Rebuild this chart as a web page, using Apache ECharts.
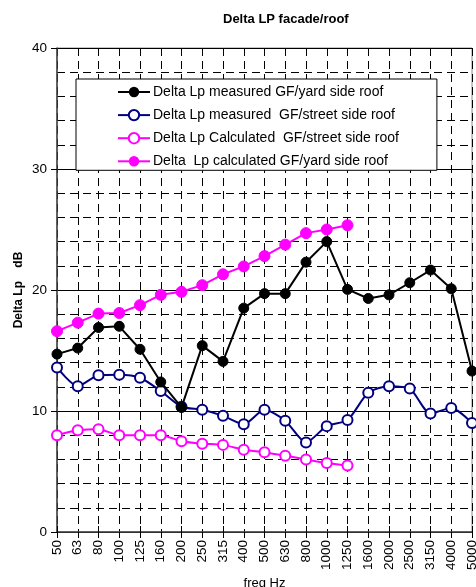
<!DOCTYPE html>
<html>
<head>
<meta charset="utf-8">
<script src="https://cdn.jsdelivr.net/npm/echarts@6/dist/echarts.min.js"></script>
<style>html,body{margin:0;padding:0;background:#fff;}#c{width:476px;height:587px;}</style>
</head>
<body>
<div id="c"></div>
<script>
const categories = ['50','63','80','100','125','160','200','250','315','400','500','630','800','1000','1250','1600','2000','2500','3150','4000','5000'];
const measuredYard = [14.7,15.2,16.9,17.0,15.1,12.4,10.3,15.4,14.1,18.5,19.7,19.7,22.3,24.0,20.05,19.3,19.6,20.6,21.65,20.1,13.3];
const measuredStreet = [13.6,12.05,12.95,13.0,12.75,11.65,10.35,10.1,9.6,8.9,10.1,9.2,7.4,8.75,9.25,11.5,12.05,11.85,9.8,10.25,9.0];
const calcStreet = [8.0,8.4,8.5,8.0,8.0,8.0,7.5,7.3,7.2,6.8,6.6,6.3,6.0,5.7,5.5];
const calcYard = [16.6,17.3,18.05,18.1,18.75,19.6,19.85,20.4,21.3,21.95,22.8,23.75,24.7,25.0,25.35];
const yTicks = [0,10,20,30,40];

const FONT = '"Liberation Sans", Arial, sans-serif';
const chart = echarts.init(document.getElementById('c'), null, {renderer:'canvas'});
chart.setOption({
  animation:false,
  backgroundColor:'#ffffff',
  title:{text:'Delta LP facade/roof', left:218, top:8,
    textStyle:{fontFamily:FONT, fontSize:13, fontWeight:'bold', color:'#000'}},
  legend:{
    orient:'vertical', left:76, top:79,
    backgroundColor:'#ffffff', borderColor:'#000', borderWidth:1, borderRadius:0,
    padding:[6,38,2,41], itemWidth:32, itemHeight:13, itemGap:9.1,
    textStyle:{fontFamily:FONT, fontSize:14, color:'#000', padding:[0,0,0,-2]},
    data:['Delta Lp measured GF/yard side roof','Delta Lp measured  GF/street side roof','Delta Lp Calculated  GF/street side roof','Delta  Lp calculated GF/yard side roof']
  },
  grid:{left:57, right:4, top:48, bottom:55, show:true, borderColor:'#8c8c8c', borderWidth:1,
    outerBoundsMode:'none', containLabel:false},
  xAxis:[{
    type:'category', data:categories, boundaryGap:false,
    name:'freq Hz', nameLocation:'middle', nameGap:45, nameMoveOverlap:false,
    nameTextStyle:{fontFamily:FONT, fontSize:13, color:'#000'},
    axisLine:{lineStyle:{color:'#404040', width:1.5}},
    axisTick:{show:true, length:6, alignWithLabel:true, lineStyle:{color:'#000'}},
    axisLabel:{rotate:90, margin:8, fontFamily:FONT, fontSize:13.5, color:'#000', interval:0},
    splitLine:{show:true, lineStyle:{color:'#000', type:[8,5], width:1}}
  },{
    type:'category', data:categories, boundaryGap:false, position:'bottom',
    axisLine:{show:false},
    axisTick:{show:true, inside:true, length:6, lineStyle:{color:'#000'}},
    axisLabel:{show:false}, splitLine:{show:false}
  }],
  yAxis:{
    type:'value', min:0, max:40, interval:10,
    name:'Delta Lp    dB', nameLocation:'middle', nameGap:32, nameMoveOverlap:false,
    nameTextStyle:{fontFamily:FONT, fontSize:12, fontWeight:'bold', color:'#000'},
    axisLine:{show:true, lineStyle:{color:'#404040', width:1.5}},
    axisTick:{show:true, length:6, lineStyle:{color:'#000'}},
    axisLabel:{margin:10, fontFamily:FONT, fontSize:13.5, color:'#000',
      formatter:v=>yTicks.includes(v)?String(v):''},
    splitLine:{show:true, lineStyle:{color:'#000', width:1}},
    minorTick:{show:false, splitNumber:5},
    minorSplitLine:{show:true, lineStyle:{color:'#000', type:[8,5], width:1}}
  },
  series:[
    {name:'Delta Lp measured GF/yard side roof', type:'line', data:measuredYard, z:5,
      symbol:'circle', symbolSize:10, showAllSymbol:true,
      lineStyle:{color:'#000', width:2}, itemStyle:{color:'#000', borderColor:'#000'}},
    {name:'Delta Lp measured  GF/street side roof', type:'line', data:measuredStreet, z:4, smooth:0.25,
      symbol:'emptyCircle', symbolSize:10, showAllSymbol:true,
      lineStyle:{color:'#000080', width:2}, itemStyle:{color:'#000080', borderColor:'#000080', borderWidth:1}},
    {name:'Delta Lp Calculated  GF/street side roof', type:'line', data:calcStreet, z:3, smooth:0.25,
      symbol:'emptyCircle', symbolSize:10, showAllSymbol:true,
      lineStyle:{color:'#ff00ff', width:2}, itemStyle:{color:'#ff00ff', borderColor:'#ff00ff', borderWidth:1}},
    {name:'Delta  Lp calculated GF/yard side roof', type:'line', data:calcYard, z:3,
      symbol:'circle', symbolSize:11, showAllSymbol:true,
      lineStyle:{color:'#ff00ff', width:2}, itemStyle:{color:'#ff00ff', borderColor:'#ff00ff'}}
  ]
});
</script>
</body>
</html>
